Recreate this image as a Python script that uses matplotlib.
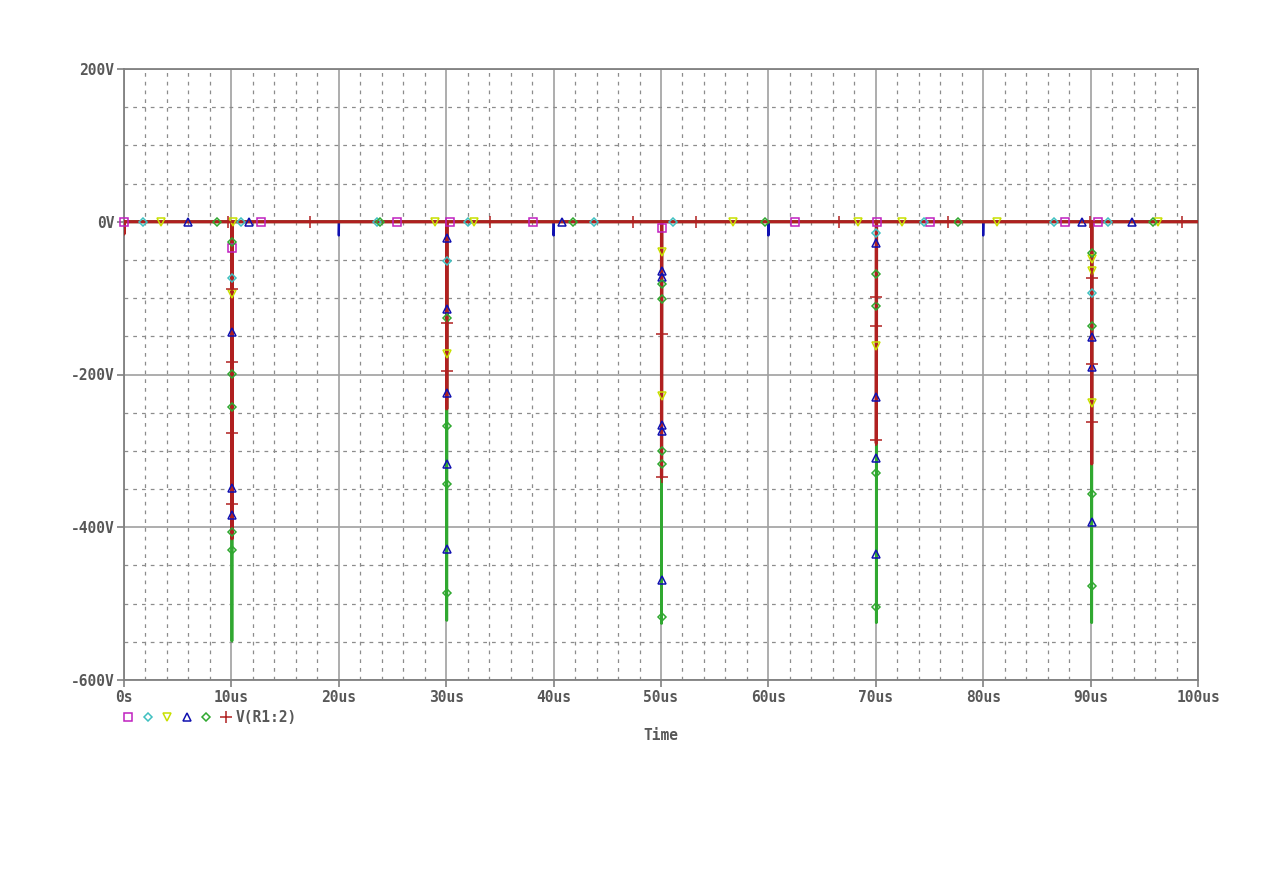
import numpy as np
import matplotlib
matplotlib.use("Agg")
import matplotlib.pyplot as plt
from matplotlib.ticker import MultipleLocator

# spike times (us) and deepest value of every trace at each spike (V)
spike_t = [10.05, 30.05, 50.05, 70.05, 90.1]

mag_min = [-60, -10, -15, -5, -5]
cyan_min = [-100, -70, -20, -20, -110]
yel_min = [-110, -190, -240, -175, -250]
blue_min = [-392, -432, -472, -440, -396]
green_min = [-549, -522, -526, -525, -525]
red_min = [-415, -245, -335, -290, -317]

# small dips on the baseline (time, value)
blue_dip_t = [20.0, 40.0, 60.0, 80.0]
blue_dip_v = [-18, -18, -18, -18]
red_dip_t = [0.0]
red_dip_v = [-16]

# marker positions
mag_mt = [0, 12.8, 25.4, 30.4, 38.1, 62.5, 70.1, 75.0, 87.6, 90.7, 10.05, 50.05]
mag_mv = [0, 0, 0, 0, 0, 0, 0, 0, 0, 0, -35, -8]

cyan_mt = [1.8, 10.9, 23.6, 32.0, 43.8, 51.1, 74.5, 86.6, 91.6,
           10.05, 30.05, 70.05, 90.1]
cyan_mv = [0, 0, 0, 0, 0, 0, 0, 0, 0, -73, -52, -15, -93]

yel_mt = [3.4, 10.15, 29.0, 32.6, 56.7, 68.3, 72.4, 81.3, 96.3,
          10.05, 30.05, 50.05, 50.05, 70.05, 90.1, 90.1, 90.1]
yel_mv = [0, 0, 0, 0, 0, 0, 0, 0, 0,
          -94, -173, -39, -228, -163, -49, -64, -237]

blue_mt = [6.0, 11.6, 40.8, 89.2, 93.9,
           10.05, 10.05, 10.05,
           30.05, 30.05, 30.05, 30.05, 30.05,
           50.05, 50.05, 50.05, 50.05, 50.05,
           70.05, 70.05, 70.05, 70.05,
           90.1, 90.1, 90.1]
blue_mv = [0, 0, 0, 0, 0,
           -145, -348, -384,
           -21, -114, -224, -317, -428,
           -64, -72, -266, -274, -469,
           -28, -230, -309, -435,
           -151, -190, -393]

green_mt = [8.7, 23.8, 41.8, 59.7, 77.7, 95.8,
            10.05, 10.05, 10.05, 10.05, 10.05,
            30.05, 30.05, 30.05, 30.05,
            50.05, 50.05, 50.05, 50.05, 50.05,
            70.05, 70.05, 70.05, 70.05,
            90.1, 90.1, 90.1, 90.1]
green_mv = [0, 0, 0, 0, 0, 0,
            -26, -199, -242, -406, -430,
            -126, -267, -343, -486,
            -81, -101, -300, -317, -517,
            -69, -110, -329, -504,
            -41, -137, -356, -477]

red_mt = [9.7, 17.3, 34.1, 47.4, 53.3, 66.6, 76.7, 89.9, 98.5,
          10.05, 10.05, 10.05, 10.05,
          30.05, 30.05,
          50.05, 50.05,
          70.05, 70.05, 70.05,
          90.1, 90.1, 90.1]
red_mv = [0, 0, 0, 0, 0, 0, 0, 0, 0,
          -88, -183, -276, -370,
          -133, -195,
          -147, -334,
          -98, -137, -286,
          -73, -186, -262]

x_ticks = [0, 10, 20, 30, 40, 50, 60, 70, 80, 90, 100]
x_labels = ["0s", "10us", "20us", "30us", "40us", "50us",
            "60us", "70us", "80us", "90us", "100us"]
y_ticks = [200, 0, -200, -400, -600]
y_labels = ["200V", "0V", "-200V", "-400V", "-600V"]
trace_name = "V(R1:2)"


def trace(mins, dip_t=(), dip_v=()):
    # flat 0V line with a vertical drop at every spike
    events = [(t, v, 0.02) for t, v in zip(spike_t, mins)]
    events += [(t, v, 0.02) for t, v in zip(dip_t, dip_v)]
    events.sort()
    ts, vs = [0.0], [0.0]
    for t, v, w in events:
        ts += [t, t, t + w]
        vs += [0.0, v, 0.0]
    ts.append(100.0)
    vs.append(0.0)
    return ts, vs


fig = plt.figure(figsize=(12.63, 8.93), dpi=100)
ax = fig.add_axes([124 / 1263, 1 - 680 / 893, 1074 / 1263, 611 / 893])

ax.set_xlim(0, 100)
ax.set_ylim(-600, 200)
ax.xaxis.set_minor_locator(MultipleLocator(2))
ax.yaxis.set_minor_locator(MultipleLocator(50))
ax.grid(which="minor", color="#8c8c8c", linestyle=(0, (3, 4)), linewidth=0.9)
ax.grid(which="major", color="#a0a0a0", linestyle="-", linewidth=1.2)
ax.set_axisbelow(True)
for s in ax.spines.values():
    s.set_color("#808080")
    s.set_linewidth(1.3)

font = dict(family="DejaVu Sans Mono", weight="bold", size=10.5, color="#585858")
ax.set_xticks(x_ticks)
ax.set_xticklabels(x_labels, **font)
ax.set_yticks(y_ticks)
ax.set_yticklabels(y_labels, **font)
ax.tick_params(which="major", length=5, width=1.2, color="#808080", pad=2)
ax.tick_params(which="minor", length=0)
ax.set_xlabel("Time", labelpad=17, **font)

traces = [
    (mag_min, (), (), mag_mt, mag_mv, "#c020c0", "s", 6, 1.4),
    (cyan_min, (), (), cyan_mt, cyan_mv, "#40c0c0", "D", 4.5, 1.4),
    (yel_min, (), (), yel_mt, yel_mv, "#c8e000", "v", 6, 1.6),
    (blue_min, blue_dip_t, blue_dip_v, blue_mt, blue_mv, "#1010b0", "^", 6, 1.6),
    (green_min, (), (), green_mt, green_mv, "#30a830", "D", 4.5, 2.0),
    (red_min, red_dip_t, red_dip_v, red_mt, red_mv, "#b02020", "+", 8, 2.3),
]

for i, (mins, dt, dv, mt, mv, col, mk, ms, lw) in enumerate(traces):
    ts, vs = trace(mins, dt, dv)
    ax.plot(ts, vs, color=col, linewidth=lw, zorder=3 + i)
for i, (mins, dt, dv, mt, mv, col, mk, ms, lw) in enumerate(traces):
    ax.plot(mt, mv, linestyle="none", marker=mk, markersize=ms,
            markerfacecolor="none", markeredgecolor=col, markeredgewidth=1.1,
            zorder=10 + i, clip_on=False)

# legend row under the axes
for i, (mins, dt, dv, mt, mv, col, mk, ms, lw) in enumerate(traces):
    ax.plot([(128 + 19.5 * i - 124) / 1074], [-(717 - 680) / 611],
            transform=ax.transAxes, linestyle="none", marker=mk, markersize=ms,
            markerfacecolor="none", markeredgecolor=col, markeredgewidth=1.1,
            clip_on=False)
ax.text((236 - 124) / 1074, -(717 - 680) / 611, trace_name,
        transform=ax.transAxes, va="center", ha="left", **font)

fig.savefig("out.png", dpi=100)
